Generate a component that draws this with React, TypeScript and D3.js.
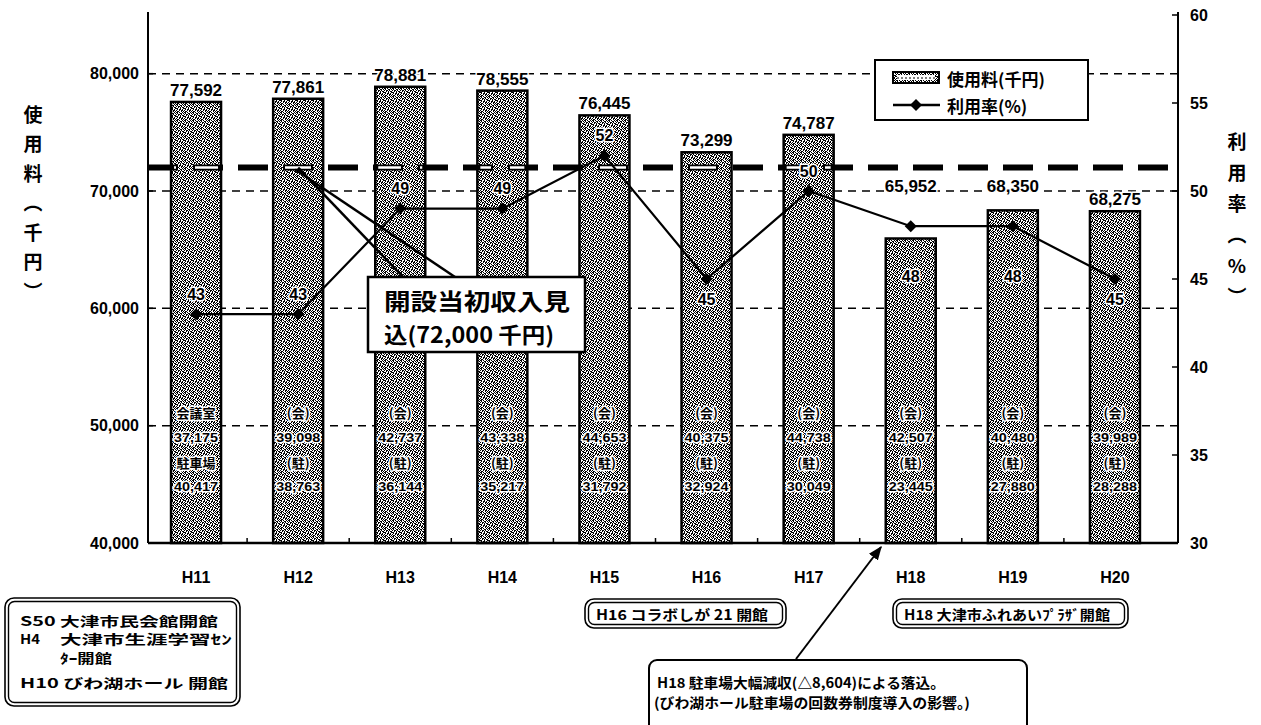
import React from 'react';
import * as d3 from 'd3';

const categories = ['H11', 'H12', 'H13', 'H14', 'H15', 'H16', 'H17', 'H18', 'H19', 'H20'];
const usageFee = [77592, 77861, 78881, 78555, 76445, 73299, 74787, 65952, 68350, 68275];
const hallHeader = ['会議室', '(会)', '(会)', '(会)', '(会)', '(会)', '(会)', '(会)', '(会)', '(会)'];
const hallFee = ['37,175', '39,098', '42,737', '43,338', '44,653', '40,375', '44,738', '42,507', '40,480', '39,989'];
const parkingHeader = ['駐車場', '(駐)', '(駐)', '(駐)', '(駐)', '(駐)', '(駐)', '(駐)', '(駐)', '(駐)'];
const parkingFee = ['40,417', '38,763', '36,144', '35,217', '31,792', '32,924', '30,049', '23,445', '27,880', '28,288'];
const usageRate = [43, 43, 49, 49, 52, 45, 50, 48, 48, 45];
const rateLabelSide = ['above', 'above', 'above', 'above', 'above', 'below', 'above', 'belowFar', 'belowFar', 'below'];
const leftTicks = [40000, 50000, 60000, 70000, 80000];
const gridTicks = [50000, 60000, 70000, 80000];
const rightTicks = [30, 35, 40, 45, 50, 55, 60];
const initialTarget = 72000;

const FONT = "'Liberation Sans', 'Noto Sans CJK JP', sans-serif";
const JFONT = "'Noto Sans CJK JP', 'Liberation Sans', sans-serif";

const W = 1261, H = 725;
const plotL = 148, plotR = 1178, plotT = 15, plotB = 543;

const speckRows = [
  '##.#..#.',
  '.#..##.#',
  '#.##.#..',
  '..#.#.##',
  '##..#..#',
  '.#.##.#.',
  '#..#.##.',
  '.##..#.#',
];

export default function App() {
  const x = d3.scaleBand<string>().domain(categories).range([145, 1166]).paddingInner(0).paddingOuter(0);
  const yL = d3.scaleLinear().domain([40000, 85000]).range([plotB, plotT]);
  const yR = d3.scaleLinear().domain([30, 60]).range([plotB, plotT]);
  const barW = 50;
  const cx = (c: string) => (x(c) as number) + x.bandwidth() / 2;
  const line = d3.line<number>().x((_, i) => cx(categories[i])).y((v) => yR(v));
  const targetY = yL(initialTarget);
  const h12x = cx('H12');

  const vTitle = (chars: string[], xx: number, y0: number, step: number) =>
    chars.map((ch, i) => (
      <text key={i} x={xx} y={y0 + i * step} textAnchor="middle" dominantBaseline="central"
        fontFamily={JFONT} fontWeight="bold" fontSize={19}>{ch}</text>
    ));

  const halo = { stroke: '#fff', strokeWidth: 3, paintOrder: 'stroke' as const, strokeLinejoin: 'round' as const };

  const doubleBox = (x0: number, y0: number, w: number, h: number) => (
    <g>
      <rect x={x0} y={y0} width={w} height={h} rx={9} fill="#fff" stroke="#000" strokeWidth={1.6} />
      <rect x={x0 + 3.5} y={y0 + 3.5} width={w - 7} height={h - 7} rx={6} fill="none" stroke="#000" strokeWidth={1.4} />
    </g>
  );

  const note = (txt: string, x0: number, y0: number, len: number, fs = 14) => (
    <text x={x0} y={y0} textLength={len} lengthAdjust="spacingAndGlyphs" fontFamily={JFONT} fontWeight="bold" fontSize={fs}>{txt}</text>
  );

  return (
    <svg width={W} height={H} style={{ position: 'absolute', left: 0, top: 0, background: '#fff' }}>
      <defs>
        <pattern id="speckle" width={8} height={8} patternUnits="userSpaceOnUse">
          <rect width={8} height={8} fill="#fff" />
          {speckRows.map((row, r) =>
            row.split('').map((ch, c) => (ch === '#' ? <rect key={`${r}-${c}`} x={c} y={r} width={1} height={1} fill="#000" /> : null))
          )}
        </pattern>
        <clipPath id="barsClip">
          {categories.map((c, i) => (
            <rect key={c} x={cx(c) - barW / 2 + 3} y={yL(usageFee[i])} width={barW - 6} height={plotB - yL(usageFee[i])} />
          ))}
        </clipPath>
        <marker id="arrow" viewBox="0 0 10 10" refX={9} refY={5} markerWidth={7} markerHeight={7} orient="auto">
          <path d="M0,1 L10,5 L0,9 z" fill="#000" />
        </marker>
      </defs>
      <rect width={W} height={H} fill="#fff" />

      {/* gridlines */}
      {gridTicks.map((t) => (
        <line key={t} x1={plotL} x2={plotR} y1={yL(t)} y2={yL(t)} stroke="#000" strokeWidth={1.5} strokeDasharray="8,6" />
      ))}

      {/* bars */}
      {categories.map((c, i) => (
        <rect key={c} x={cx(c) - barW / 2} y={yL(usageFee[i])} width={barW} height={plotB - yL(usageFee[i])}
          fill="url(#speckle)" stroke="#000" strokeWidth={2.5} />
      ))}

      {/* target dashed line */}
      <line x1={plotL} x2={plotR} y1={targetY} y2={targetY} stroke="#000" strokeWidth={6} strokeDasharray="30,15" />
      <line x1={plotL} x2={plotR} y1={targetY} y2={targetY} stroke="#fff" strokeWidth={2.5} strokeDasharray="26,19"
        strokeDashoffset={-2} clipPath="url(#barsClip)" />

      {/* axes */}
      <line x1={plotL} x2={plotL} y1={plotT - 3} y2={plotB} stroke="#000" strokeWidth={2} />
      <line x1={plotR} x2={plotR} y1={plotT - 3} y2={plotB} stroke="#000" strokeWidth={2} />
      <line x1={plotL} x2={plotR} y1={plotB} y2={plotB} stroke="#000" strokeWidth={2.5} />
      {leftTicks.map((t) => (
        <g key={t}>
          <line x1={plotL} x2={plotL + 5} y1={yL(t)} y2={yL(t)} stroke="#000" strokeWidth={1.5} />
          <text x={139} y={yL(t)} textAnchor="end" dominantBaseline="central" fontFamily={FONT} fontWeight="bold" fontSize={16}>
            {d3.format(',')(t)}
          </text>
        </g>
      ))}
      {rightTicks.map((t) => (
        <g key={t}>
          <line x1={plotR - 6} x2={plotR} y1={yR(t)} y2={yR(t)} stroke="#000" strokeWidth={1.5} />
          <text x={1190} y={yR(t)} textAnchor="start" dominantBaseline="central" fontFamily={FONT} fontWeight="bold" fontSize={16}>
            {t}
          </text>
        </g>
      ))}
      {categories.slice(1).map((c) => (
        <line key={c} x1={x(c) as number} x2={x(c) as number} y1={plotB} y2={plotB - 5} stroke="#000" strokeWidth={1.5} />
      ))}
      {categories.map((c) => (
        <text key={c} x={cx(c)} y={577} textAnchor="middle" dominantBaseline="central" fontFamily={FONT} fontWeight="bold" fontSize={16}>{c}</text>
      ))}

      {/* axis titles */}
      {vTitle(['使', '用', '料', '︵', '千', '円', '︶'], 33, 113, 29.5)}
      {vTitle(['利', '用', '率', '︵', '%', '︶'], 1237, 140, 31)}

      {/* inner bar labels */}
      {categories.map((c, i) => (
        <g key={c} fontFamily={JFONT} fontWeight="bold" fontSize={13} textAnchor="middle">
          <text x={cx(c)} y={418} {...halo}>{hallHeader[i]}</text>
          <text x={cx(c)} y={442} fontFamily={FONT} textLength={44} lengthAdjust="spacingAndGlyphs" {...halo}>{hallFee[i]}</text>
          <text x={cx(c)} y={468} {...halo}>{parkingHeader[i]}</text>
          <text x={cx(c)} y={491} fontFamily={FONT} textLength={44} lengthAdjust="spacingAndGlyphs" {...halo}>{parkingFee[i]}</text>
        </g>
      ))}

      {/* callout pointer */}
      <line x1={h12x} y1={targetY} x2={403} y2={277} stroke="#000" strokeWidth={2.5} />
      <line x1={h12x - 3} y1={targetY + 2} x2={455} y2={277} stroke="#000" strokeWidth={2.5} />

      {/* rate line */}
      <path d={line(usageRate) as string} fill="none" stroke="#000" strokeWidth={2.2} />
      {usageRate.map((v, i) => {
        const px = cx(categories[i]), py = yR(v);
        return <path key={i} d={`M${px},${py - 6} L${px + 6},${py} L${px},${py + 6} L${px - 6},${py} Z`} fill="#000" />;
      })}
      {usageRate.map((v, i) => {
        const px = cx(categories[i]), py = yR(v);
        const side = rateLabelSide[i];
        const ly = side === 'above' ? py - 20 : side === 'below' ? py + 20 : py + 50;
        return (
          <text key={i} x={px} y={ly} textAnchor="middle" dominantBaseline="central" fontFamily={FONT} fontWeight="bold" fontSize={16} {...halo}>{v}</text>
        );
      })}

      {/* bar value labels */}
      {categories.map((c, i) => {
        const top = Math.min(yL(usageFee[i]), yR(usageRate[i]) - 28);
        return (
          <text key={c} x={cx(c)} y={top - 6} textAnchor="middle" fontFamily={FONT} fontWeight="bold" fontSize={17} {...halo}>
            {d3.format(',')(usageFee[i])}
          </text>
        );
      })}

      {/* callout box */}
      <rect x={368} y={277} width={217} height={75} fill="#fff" stroke="#000" strokeWidth={2.5} />
      <text x={384} y={310} textLength={186} lengthAdjust="spacingAndGlyphs" fontFamily={JFONT} fontWeight="bold" fontSize={23}>開設当初収入見</text>
      <text x={384} y={343} textLength={170} lengthAdjust="spacingAndGlyphs" fontFamily={JFONT} fontWeight="bold" fontSize={22}>込(72,000 千円)</text>

      {/* legend */}
      <rect x={875} y={60} width={213} height={60} fill="#fff" stroke="#000" strokeWidth={2} />
      <rect x={893} y={72} width={46} height={11} fill="url(#speckle)" stroke="#000" strokeWidth={2} />
      <rect x={897} y={75} width={38} height={5} fill="#fff" />
      <line x1={897} x2={935} y1={78} y2={78} stroke="#000" strokeWidth={1} strokeDasharray="2,2" />
      <text x={947} y={78} dominantBaseline="central" fontFamily={JFONT} fontWeight="bold" fontSize={17}>使用料(千円)</text>
      <line x1={893} x2={940} y1={105} y2={105} stroke="#000" strokeWidth={2.5} />
      <path d="M916,99 L922,105 L916,111 L910,105 Z" fill="#000" />
      <text x={947} y={105} dominantBaseline="central" fontFamily={JFONT} fontWeight="bold" fontSize={17}>利用率(%)</text>

      {/* bottom notes */}
      {doubleBox(5, 598, 235, 108)}
      {note('S50  大津市民会館開館', 20, 626, 198, 13)}
      {note('H4', 20, 644, 20, 13)}
      {note('大津市生涯学習ｾﾝ', 60, 644, 172, 13)}
      {note('ﾀｰ開館', 60, 663, 52, 13)}
      {note('H10  びわ湖ホール 開館', 20, 688, 208, 13)}

      {doubleBox(585, 599, 201, 29)}
      {note('H16  コラボしが 21 開館', 596, 620, 172)}
      {doubleBox(893, 599, 235, 29)}
      {note('H18  大津市ふれあいﾌﾟﾗｻﾞ開館', 904, 620, 206)}

      <line x1={796} y1={659} x2={881} y2={547} stroke="#000" strokeWidth={2} markerEnd="url(#arrow)" />
      <rect x={649} y={660} width={378} height={80} rx={8} fill="#fff" stroke="#000" strokeWidth={2} />
      {note('H18  駐車場大幅減収(△8,604)による落込。', 657, 688, 288)}
      {note('(びわ湖ホール駐車場の回数券制度導入の影響。)', 654, 708, 316)}
    </svg>
  );
}
